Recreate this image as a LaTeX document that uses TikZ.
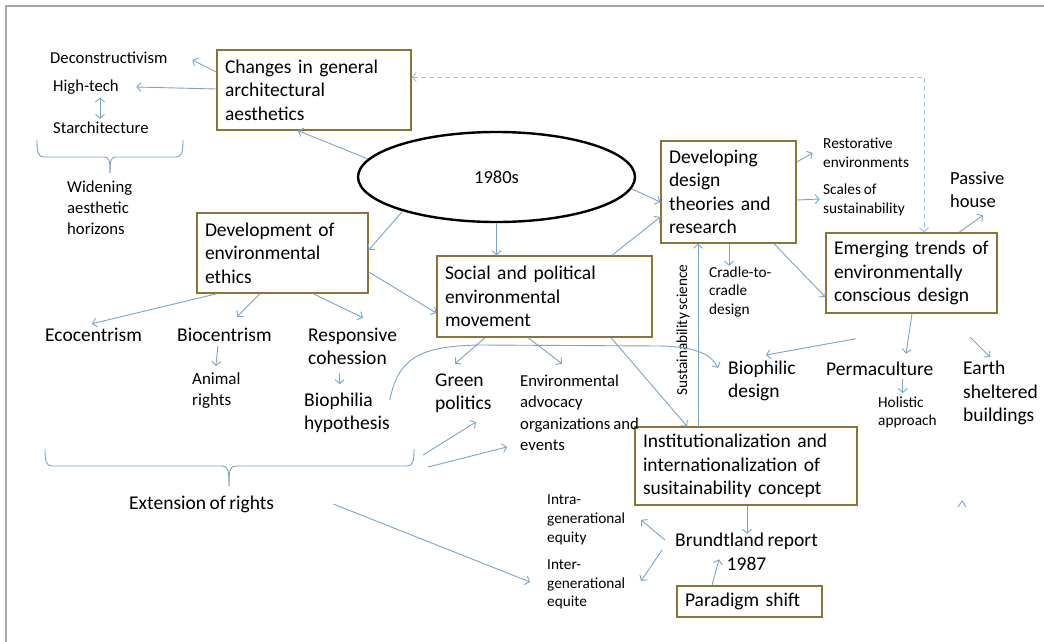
\documentclass[tikz,border=0pt]{standalone}
\usepackage{fontspec}
\setmainfont[WordSpace=0.8]{Carlito}
\usetikzlibrary{arrows.meta,shapes.geometric,calc}
\definecolor{boxc}{HTML}{8B7534}
\definecolor{arrc}{HTML}{7BA4CB}
\definecolor{dashc}{HTML}{9DC0DF}
\definecolor{framec}{HTML}{A8A8A8}
\newcommand\fszL{\fontsize{19.5}{23.5}\selectfont}
\newcommand\fszM{\fontsize{16.7}{21}\selectfont}
\newcommand\fszS{\fontsize{15.3}{18.7}\selectfont}
\newcommand\fszAn{\fontsize{17}{21}\selectfont}
\newcommand\fszP{\fontsize{18.5}{23}\selectfont}
\newcommand\fszEv{\fontsize{16.7}{21.5}\selectfont}
\begin{document}
\begin{tikzpicture}[x=1pt,y=-1pt,
  box/.style={draw=boxc, line width=1.4pt, fill=white, align=left, inner xsep=8pt, inner ysep=0pt, font=\fszL},
  lbl/.style={inner sep=0pt, anchor=west, align=left},
  arr/.style={draw=arrc, line width=0.9pt, -{Straight Barb[length=4pt,width=9pt]}},
  arrtwo/.style={draw=arrc, line width=0.9pt, {Straight Barb[length=4pt,width=9pt]}-{Straight Barb[length=4pt,width=9pt]}},
  dsh/.style={draw=dashc, line width=0.9pt, dash pattern=on 5pt off 3pt, {Straight Barb[length=4pt,width=9pt]}-{Straight Barb[length=4pt,width=9pt]}},
  brc/.style={draw=arrc, line width=0.9pt}]
\useasboundingbox (0,0) rectangle (1044,642);
\fill[white] (0,0) rectangle (1044,642);
\draw[framec, line width=1.2pt] (6,642) -- (6,6) -- (1044,6);

% boxes
\node[box, minimum width=194pt, minimum height=80pt, text width=178pt] (A) at (314,90) {\mbox{Changes in general}\\architectural\\aesthetics};
\node[draw=black, ellipse, line width=2.4pt, minimum width=277pt, minimum height=90pt, inner sep=0pt, font=\fontsize{18.5}{22}\selectfont] (e80) at (496.5,177) {1980s};
\node[box, minimum width=171pt, minimum height=80pt, text width=155pt] (B) at (282.5,253) {Development of\\environmental\\ethics};
\node[box, minimum width=215pt, minimum height=81pt, text width=199pt] (C) at (544.5,296.5) {\mbox{Social and political}\\environmental\\movement};
\node[box, minimum width=135pt, minimum height=102pt, text width=119pt] (D) at (728.5,192) {Developing\\design\\theories and\\research};
\node[box, minimum width=171pt, minimum height=80pt, text width=155pt] (E) at (911.5,273) {\mbox{Emerging trends of}\\environmentally\\\mbox{conscious design}};
\node[box, minimum width=222pt, minimum height=78pt, text width=206pt] (F) at (746,466) {\mbox{Institutionalization and}\\\mbox{internationalization of}\\\mbox{susitainability concept}};
\node[box, minimum width=145pt, minimum height=31pt, text width=129pt] (G) at (749.5,601.5) {Paradigm shift};

% labels
\node[lbl, font=\fszM] (deco) at (50,58) {Deconstructivism};
\node[lbl, font=\fszM] (htech) at (53,87) {High-tech};
\node[lbl, font=\fszM] (starc) at (53,128) {Starchitecture};
\node[lbl, font=\fszM] (widen) at (67,208) {Widening\\aesthetic\\horizons};
\node[lbl, font=\fszS] (restor) at (823,152.5) {Restorative\\environments};
\node[lbl, font=\fszS] (scales) at (823,200) {Scales of\\sustainability};
\node[lbl, font=\fszP] (passive) at (950,189.5) {Passive\\house};
\node[lbl, font=\fszS] (cradle) at (709,292) {Cradle-to-\\cradle\\design};
\node[inner sep=0pt, rotate=90, font=\fszS] (sust) at (683,330) {Sustainability science};
\node[lbl, font=\fszL] (eco) at (45,335) {Ecocentrism};
\node[lbl, font=\fszL] (bio) at (177,335) {Biocentrism};
\node[lbl, font=\fszL] (resp) at (308,346.5) {Responsive\\cohession};
\node[lbl, font=\fszAn] (animal) at (192,390.5) {Animal\\rights};
\node[lbl, font=\fszL] (biophilia) at (304,413) {Biophilia\\hypothesis};
\node[lbl, font=\fszL] (green) at (435,393) {Green\\politics};
\node[lbl, font=\fszEv] (envadv) at (520,413) {Environmental\\advocacy\\organizations and\\events};
\node[lbl, font=\fszL] (biophd) at (728,381) {Biophilic\\design};
\node[lbl, font=\fszL] (perma) at (826,369) {Permaculture};
\node[lbl, font=\fszS] (holistic) at (878,412.5) {Holistic\\approach};
\node[lbl, font=\fszL] (earth) at (963,393) {Earth\\sheltered\\buildings};
\node[lbl, font=\fszL] (ext) at (129,504) {Extension of rights};
\node[lbl, font=\fszS] (intra) at (547,520) {Intra-\\generational\\equity};
\node[lbl, font=\fszS] (inter) at (547,584.5) {Inter-\\generational\\equite};
\node[inner sep=0pt, align=center, font=\fszL] (brundt) at (746.5,552) {Brundtland report\\1987};

% braces
\draw[brc] (37,140) .. controls (37,152) and (38,157) .. (44,157) -- (104,157) .. controls (109,157) and (110,160) .. (110,173);
\draw[brc] (183,140) .. controls (183,152) and (182,157) .. (176,157) -- (116,157) .. controls (111,157) and (110,160) .. (110,173);
\draw[brc] (45,449) .. controls (45,461) and (46,466) .. (52,466) -- (222,466) .. controls (228,466) and (229,470) .. (229,486);
\draw[brc] (414,449) .. controls (414,461) and (413,466) .. (407,466) -- (236,466) .. controls (230,466) and (229,470) .. (229,486);

% connectors
\draw[arr] (A.west |- 0,72) -- ++(-24,-12);
\draw[arr] (A.west |- 0,89) -- ++(-80,-2);
\draw[arrtwo, shorten <=3pt, shorten >=3pt] (htech.south -| 100,0) -- (starc.north -| 100,0);
\draw[arr] (e80.172) -- (A.south -| 298,0);
\draw[arr] (e80.200) -- (B.east |- 0,250);
\draw[arr] (e80.south) -- (e80.south |- C.north);
\draw[arr] (e80.-5) -- (D.west |- 0,202);
\draw[arr] (C.north -| 612,0) -- (D.west |- 0,217);
\draw[dsh] (A.east |- 0,77) -| (E.north -| 924,0);
\draw[arr] (D.east |- 0,162) -- ++(16,-9);
\draw[arr] (D.east |- 0,200) -- ++(23,-1);
\draw[arr] (E.north -| 959,0) -- ++(24,-17);
\draw[arr] (D.south -| 729,0) -- ++(0,22);
\draw[arr] (D.south -| 774,0) -- (E.west |- 0,297);
\draw[arr] (B.south -| 217,0) -- ++(-125,30);
\draw[arr] (B.south -| 260,0) -- ++(-23,23);
\draw[arr] (B.south -| 313,0) -- ++(50,24);
\draw[arr] (B.east |- 0,272) -- (C.west |- 0,313);
\draw[arr] ($(bio.south)+(-6.5,4)$) -- ++(-2,20);
\draw[arr] ($(resp.south)+(-13,8)$) -- ++(0,11);
\draw[arr] (C.south -| 485,0) -- ++(-30,26);
\draw[arr] (C.south -| 528,0) -- ++(34,26);
\draw[arr] (C.south -| 611,0) -- (F.north -| 687,0);
\draw[arr] (biophilia.east |- 0,400) .. controls (398,358) and (420,346) .. (480,345) -- (660,346) .. controls (700,347) and (712,356) .. ($(biophd.west)+(-10,-13)$);
\draw[arr] ($(E.south)+(-55.5,25)$) -- ($(biophd.west)+(38,-26)$);
\draw[arr] (E.south -| 912,0) -- ++(-6,40);
\draw[arr] ($(earth.west)+(7,-56)$) -- ++(20,20);
\draw[arr] ($(perma.south)+(23,3)$) -- ++(0,14);
\draw[arr] ($(green.west)+(-12,62)$) -- ++(53,-33);
\draw[arr] ($(envadv.west)+(-92,54)$) -- ++(79,-20);
\draw[arr] (F.north -| 698,0) -- (D.south -| 698,0);
\draw[arr] (F.south -| 747,0) -- ++(0,28);
\draw[arr] ($(brundt.west)+(-10,-12)$) -- ++(-24,-20);
\draw[arr] ($(brundt.west)+(-13,-2)$) -- ++(-21,31);
\draw[arr] (G.north -| 712,0) -- ++(7,-26);
\draw[arr] ($(ext.east)+(59,0)$) -- ($(inter.west)+(-17,-2.5)$);
\draw[brc] (958,507) -- (962,501) -- (966,507);
\end{tikzpicture}
\end{document}
